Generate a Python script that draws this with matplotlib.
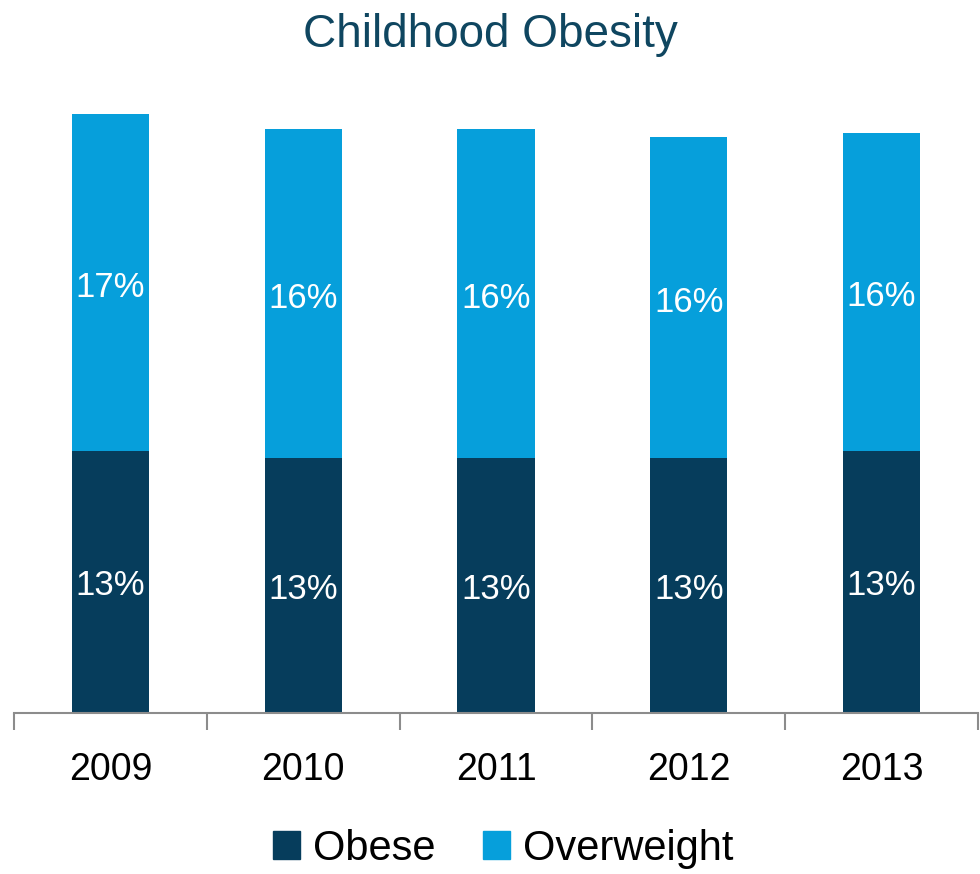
import matplotlib
matplotlib.use("Agg")
import matplotlib.pyplot as plt
from matplotlib.patches import Patch
from matplotlib import font_manager

years = ["2009", "2010", "2011", "2012", "2013"]
obese = [13.4, 13.0, 13.0, 13.0, 13.4]
overweight = [17.2, 16.8, 16.8, 16.4, 16.2]
obese_labels = ["13%", "13%", "13%", "13%", "13%"]
overweight_labels = ["17%", "16%", "16%", "16%", "16%"]

names = {f.name for f in font_manager.fontManager.ttflist}
fam = ["Liberation Sans Narrow"] if "Liberation Sans Narrow" in names else ["Liberation Sans"]
plt.rcParams["font.family"] = fam + ["DejaVu Sans"]

c_dark = "#063d5c"
c_light = "#069fdb"

fig = plt.figure(figsize=(9.8, 8.74), dpi=100)
ax = fig.add_axes([14/980, 1-713/874, (978-14)/980, (713-100)/874])

x = list(range(len(years)))
ax.bar(x, obese, width=0.4, color=c_dark, label="Obese")
ax.bar(x, overweight, width=0.4, bottom=obese, color=c_light, label="Overweight")

for i in x:
    ax.text(i, obese[i]/2 - 0.2, obese_labels[i], ha="center", va="center", color="white", fontsize=25)
    ax.text(i, obese[i] + overweight[i]/2 - 0.25, overweight_labels[i], ha="center", va="center", color="white", fontsize=25)

ax.set_xlim(-0.5, len(years)-0.5)
ax.set_ylim(0, 31.3)
for s in ["top", "right", "left"]:
    ax.spines[s].set_visible(False)
ax.spines["bottom"].set_color("#8c8c8c")
ax.spines["bottom"].set_linewidth(1.5)
ax.set_yticks([])
ax.set_xticks([i - 0.5 for i in range(len(years)+1)], minor=False)
ax.set_xticklabels([])
ax.tick_params(axis="x", which="major", length=12, width=1.5, color="#8c8c8c", direction="out")
ax.set_xticks(x, minor=True)
ax.set_xticklabels(years, minor=True, fontsize=27)
ax.tick_params(axis="x", which="minor", length=0, pad=28)

fig.text(0.5, 1-35/874, "Childhood Obesity", ha="center", va="center", color="#0f4660", fontsize=33)

handles = [Patch(color=c_dark, label="Obese"), Patch(color=c_light, label="Overweight")]
fig.legend(handles=handles, loc="center", bbox_to_anchor=(503/980, 1-849/874), ncol=2, frameon=False,
           fontsize=30, handlelength=0.65, handleheight=0.65, handletextpad=0.31, columnspacing=1.13,
           borderpad=0, borderaxespad=0)

fig.savefig("out.png", dpi=100)
